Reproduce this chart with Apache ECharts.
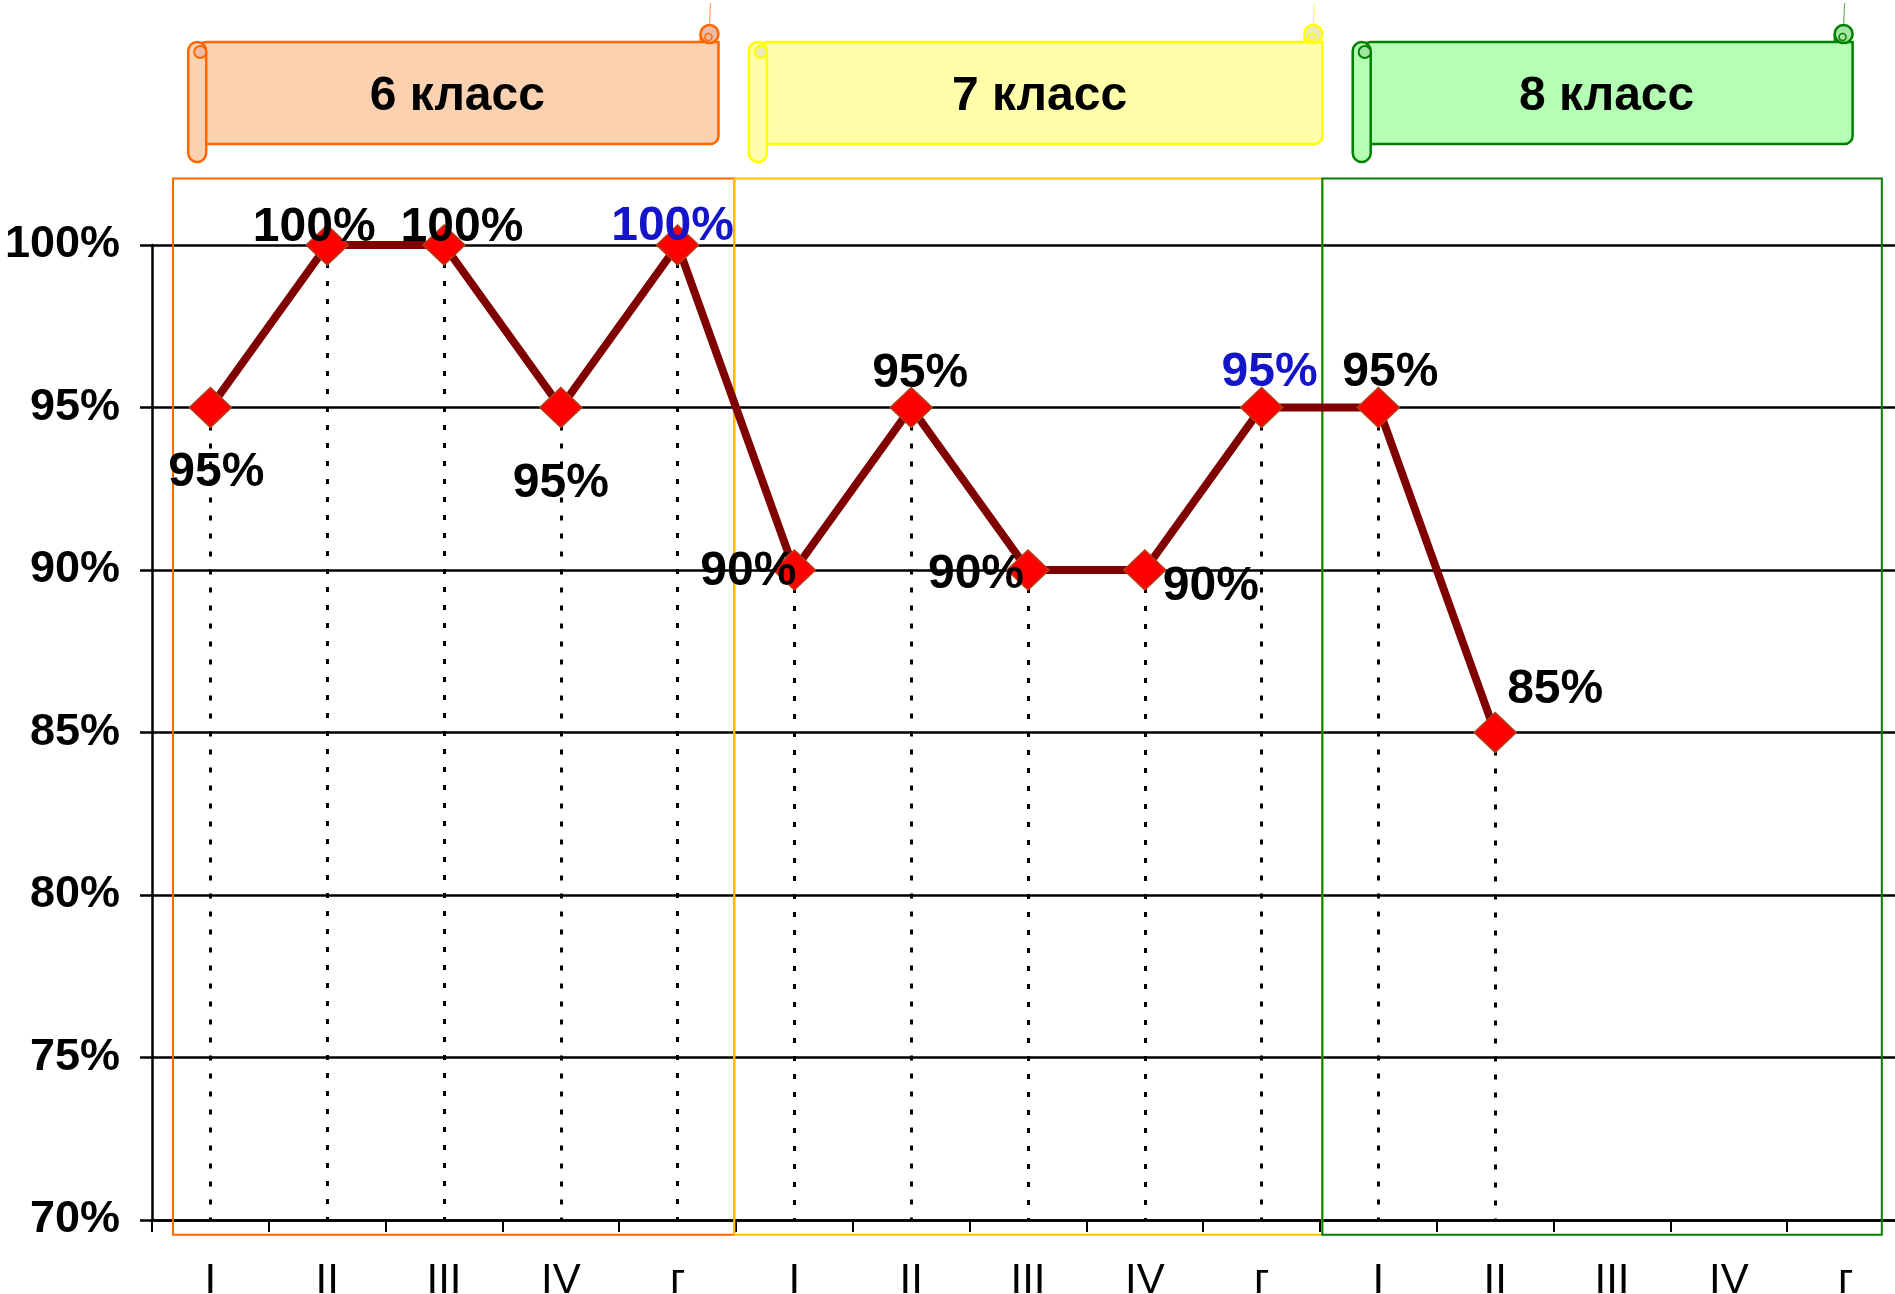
<!DOCTYPE html>
<html>
<head>
<meta charset="utf-8">
<script src="https://cdn.jsdelivr.net/npm/echarts@6/dist/echarts.min.js"></script>
<style>
  html, body { margin: 0; padding: 0; background: #fff; }
  #main { width: 1895px; height: 1294px; }
</style>
</head>
<body>
<div id="main"></div>
<script>
// categories (quarters + year) for 6, 7, 8 class
const categories = ['I', 'II', 'III', 'IV', 'г', 'I', 'II', 'III', 'IV', 'г', 'I', 'II', 'III', 'IV', 'г'];
const values = [95, 100, 100, 95, 100, 90, 95, 90, 90, 95, 95, 85, null, null, null];
const groupNames = ['6 класс', '7 класс', '8 класс'];

const yMin = 70, yMax = 100, yStep = 5;

// label offsets around each point (px)
const labelOffsets = [
  [6, 65], [-13, -17], [18, -17], [0, 76], [-5, -18],
  [-46, 2], [9, -34], [-52, 5], [66, 17], [8, -35],
  [12, -35], [60, -43], [0, 0], [0, 0], [0, 0]
];

// frames and scrolls, in category units along x
const boxSpans = [[0.18, 4.985], [4.985, 10.02], [10.02, 14.81]];
const bannerSpans = [[0.31, 4.85], [5.11, 10.02], [10.28, 14.56]];
const boxColors = ['#ff6600', '#ffc000', '#008000'];
const bannerFill = ['#fcd1b0', '#ffffaa', '#b5ffb5'];
const bannerStroke = ['#ff6600', '#ffff00', '#008000'];
const bannerCurl = ['#eebca4', '#ebebb8', '#a2e6a2'];

const FONT = '"Liberation Sans", Arial, sans-serif';

const chart = echarts.init(document.getElementById('main'));

const option = {
  animation: false,
  grid: { left: 152, width: 1752, top: 245, bottom: 74, outerBoundsMode: 'none', containLabel: false },
  xAxis: [
    {
      type: 'category',
      data: categories,
      boundaryGap: true,
      axisLine: { onZero: false, lineStyle: { color: '#000', width: 2.5 } },
      axisTick: { show: true, length: 12, lineStyle: { color: '#000', width: 2 } },
      axisLabel: { color: '#000', fontSize: 42, fontFamily: FONT, margin: 40, interval: 0 },
      splitLine: { show: false }
    },
    { type: 'value', min: 0, max: 15, show: false }
  ],
  yAxis: {
    type: 'value',
    min: yMin,
    max: yMax,
    interval: yStep,
    axisLine: { show: true, onZero: false, lineStyle: { color: '#000', width: 2.5 } },
    axisTick: { show: true, length: 12, lineStyle: { color: '#000', width: 2.5 } },
    axisLabel: {
      formatter: '{value}%', color: '#000', fontSize: 45,
      fontWeight: 'bold', fontFamily: FONT, margin: 32, padding: [10, 0, 0, 0]
    },
    splitLine: { show: true, lineStyle: { color: '#000', width: 2.5 } }
  },
  series: [
    {
      type: 'line',
      z: 3,
      data: values.map((v, i) => v == null ? null : {
        value: v,
        label: {
          offset: labelOffsets[i],
          color: categories[i] === 'г' ? '#1414c8' : '#000'
        }
      }),
      lineStyle: { color: '#800000', width: 8 },
      symbol: 'diamond',
      symbolSize: [42, 40],
      showAllSymbol: true,
      itemStyle: { color: '#ff0000', borderColor: '#b0401a', borderWidth: 1.5 },
      label: {
        show: true,
        position: 'inside',
        formatter: '{c}%',
        fontSize: 48,
        fontWeight: 'bold',
        fontFamily: FONT,
        color: '#000'
      },
      markLine: {
        z: 1,
        silent: true,
        symbol: ['none', 'none'],
        label: { show: false },
        lineStyle: { color: '#000', type: [5, 13], width: 3 },
        data: values
          .map((v, i) => v == null ? null : [{ coord: [i, v] }, { coord: [i, yMin] }])
          .filter(Boolean)
      }
    }
  ]
};

chart.setOption(option);

// frames + scroll banners placed through the axes
const px = u => chart.convertToPixel({ xAxisIndex: 1 }, u);
const py = v => chart.convertToPixel({ yAxisIndex: 0 }, v);

function banner(x0, x1, name, fill, stroke, curl) {
  const top = 42, bot = 144, rollBot = 162, rw = 18;
  return {
    type: 'group',
    children: [
      { type: 'line', shape: { x1: x1 - 9, y1: top - 16, x2: x1 - 8, y2: 3 },
        style: { stroke: stroke, lineWidth: 1.2, opacity: 0.6 } },
      { type: 'rect', shape: { x: x0 + rw / 2, y: top, width: x1 - x0 - rw / 2, height: bot - top, r: [9, 0, 8, 0] },
        style: { fill: fill, stroke: stroke, lineWidth: 2.5 } },
      { type: 'circle', shape: { cx: x1 - 9, cy: top - 8, r: 9 },
        style: { fill: curl, stroke: stroke, lineWidth: 2.5 } },
      { type: 'line', shape: { x1: x1 - 18, y1: top - 8, x2: x1 - 18, y2: top },
        style: { stroke: stroke, lineWidth: 2 } },
      { type: 'circle', shape: { cx: x1 - 10, cy: top - 5, r: 3.5 },
        style: { fill: 'none', stroke: stroke, lineWidth: 1.5 } },
      { type: 'rect', shape: { x: x0, y: top, width: rw, height: rollBot - top, r: 9 },
        style: { fill: fill, stroke: stroke, lineWidth: 2.5 } },
      { type: 'circle', shape: { cx: x0 + 12, cy: top + 10, r: 6 },
        style: { fill: curl, stroke: stroke, lineWidth: 2 } },
      { type: 'text',
        style: { text: name, x: (x0 + x1) / 2 + 4, y: (top + bot) / 2 + 4, align: 'center', verticalAlign: 'middle',
          font: 'bold 48px ' + FONT, fill: '#000' } }
    ]
  };
}

const graphics = [];
const boxTop = py(102.05), boxBottom = py(69.55);
boxSpans.forEach((s, k) => {
  graphics.push({
    type: 'rect', z: 1,
    shape: { x: px(s[0]), y: boxTop, width: px(s[1]) - px(s[0]), height: boxBottom - boxTop },
    style: { fill: 'none', stroke: boxColors[k], lineWidth: 2 }
  });
});
bannerSpans.forEach((s, k) => {
  graphics.push(banner(px(s[0]), px(s[1]), groupNames[k], bannerFill[k], bannerStroke[k], bannerCurl[k]));
});

chart.setOption({ graphic: graphics });
window.onresize = () => { chart.resize(); };
</script>
</body>
</html>
